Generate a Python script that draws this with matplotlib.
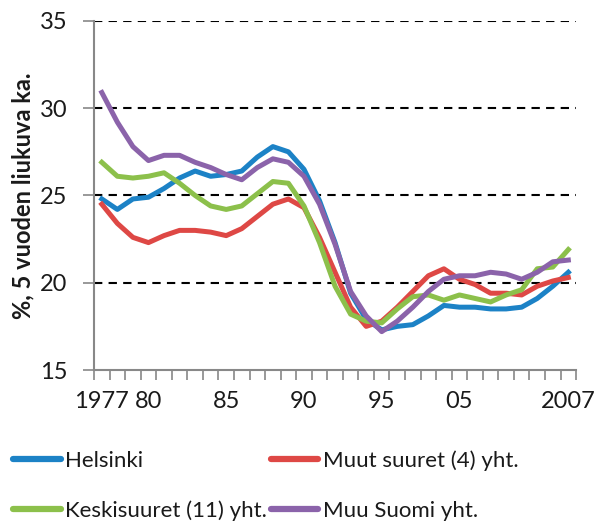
import matplotlib.pyplot as plt
import numpy as np

plt.rcParams['font.family'] = ['Lato', 'DejaVu Sans']

# years 1977..2007, tick labels as in the original (note "05" sits at 2000)
years = list(range(1977, 2008))
tick_pos = [0, 3, 8, 13, 18, 23, 30]
tick_labels = ['1977', '80', '85', '90', '95', '05', '2007']

helsinki = [24.8, 24.2, 24.8, 24.9, 25.4, 26.0, 26.4, 26.1, 26.2, 26.4, 27.2,
            27.8, 27.5, 26.5, 24.7, 22.3, 19.4, 17.9, 17.3, 17.5, 17.6, 18.1,
            18.7, 18.6, 18.6, 18.5, 18.5, 18.6, 19.1, 19.8, 20.6]
muut_suuret = [24.5, 23.4, 22.6, 22.3, 22.7, 23.0, 23.0, 22.9, 22.7, 23.1, 23.8,
               24.5, 24.8, 24.3, 22.6, 20.6, 18.6, 17.5, 17.8, 18.6, 19.5, 20.4,
               20.8, 20.2, 19.9, 19.4, 19.4, 19.3, 19.8, 20.1, 20.3]
keskisuuret = [26.9, 26.1, 26.0, 26.1, 26.3, 25.7, 25.0, 24.4, 24.2, 24.4, 25.1,
               25.8, 25.7, 24.4, 22.3, 19.8, 18.2, 17.8, 17.7, 18.5, 19.2, 19.3,
               19.0, 19.3, 19.1, 18.9, 19.3, 19.6, 20.8, 20.9, 21.9]
muu_suomi = [30.9, 29.2, 27.8, 27.0, 27.3, 27.3, 26.9, 26.6, 26.2, 25.9, 26.6,
             27.1, 26.9, 26.1, 24.5, 22.2, 19.5, 18.1, 17.2, 17.8, 18.6, 19.5,
             20.2, 20.4, 20.4, 20.6, 20.5, 20.2, 20.6, 21.2, 21.3]

x = np.arange(len(years))

fig = plt.figure(figsize=(5.97, 5.23), dpi=100)
ax = fig.add_axes([0.1575, 0.2925, 0.8075, 0.6675])

for y in [20, 25, 30, 35]:
    ax.axhline(y, color='black', linestyle=(0, (4, 3)), linewidth=1.5, zorder=1)

lw = 3.6
l1, = ax.plot(x, helsinki, color='#1c82c6', lw=lw, label='Helsinki', zorder=3)
l2, = ax.plot(x, muut_suuret, color='#de4845', lw=lw, label='Muut suuret (4) yht.', zorder=3)
l3, = ax.plot(x, keskisuuret, color='#8cc04b', lw=lw, label='Keskisuuret (11) yht.', zorder=3)
l4, = ax.plot(x, muu_suomi, color='#8b63aa', lw=lw, label='Muu Suomi yht.', zorder=3)

ax.set_xlim(-0.5, len(years) - 0.5)
ax.set_ylim(15, 35)
ax.set_yticks([15, 20, 25, 30, 35])
ax.set_xticks(tick_pos)
ax.set_xticklabels(tick_labels)
ax.set_xticks(np.arange(-0.5, len(years)), minor=True)
ax.tick_params(axis='x', which='major', length=0, labelsize=17, pad=15, colors='#1a1a1a')
ax.tick_params(axis='x', which='minor', length=7, width=1.2, color='#888888')
ax.tick_params(axis='y', length=8, width=1.2, color='#888888', labelsize=17, pad=11,
               labelcolor='#1a1a1a')

for s in ['top', 'right']:
    ax.spines[s].set_visible(False)
for s in ['left', 'bottom']:
    ax.spines[s].set_color('#888888')
    ax.spines[s].set_linewidth(1.5)

ax.set_ylabel('%, 5 vuoden liukuva ka.', fontsize=17, fontweight='bold', labelpad=4,
              color='#1a1a1a')

leg = fig.legend([l1, l3, l2, l4], [h.get_label() for h in [l1, l3, l2, l4]],
                 ncol=2, loc='upper left', bbox_to_anchor=(0.022, 1 - 450 / 523),
                 frameon=False, fontsize=16, handlelength=2.15, columnspacing=0.15,
                 handletextpad=0.2, borderpad=0, borderaxespad=0, labelspacing=1.35,
                 labelcolor='#1a1a1a')
for h in leg.legend_handles:
    h.set_linewidth(4.5)
    h.set_solid_capstyle('round')

fig.savefig('out.png', dpi=100)
